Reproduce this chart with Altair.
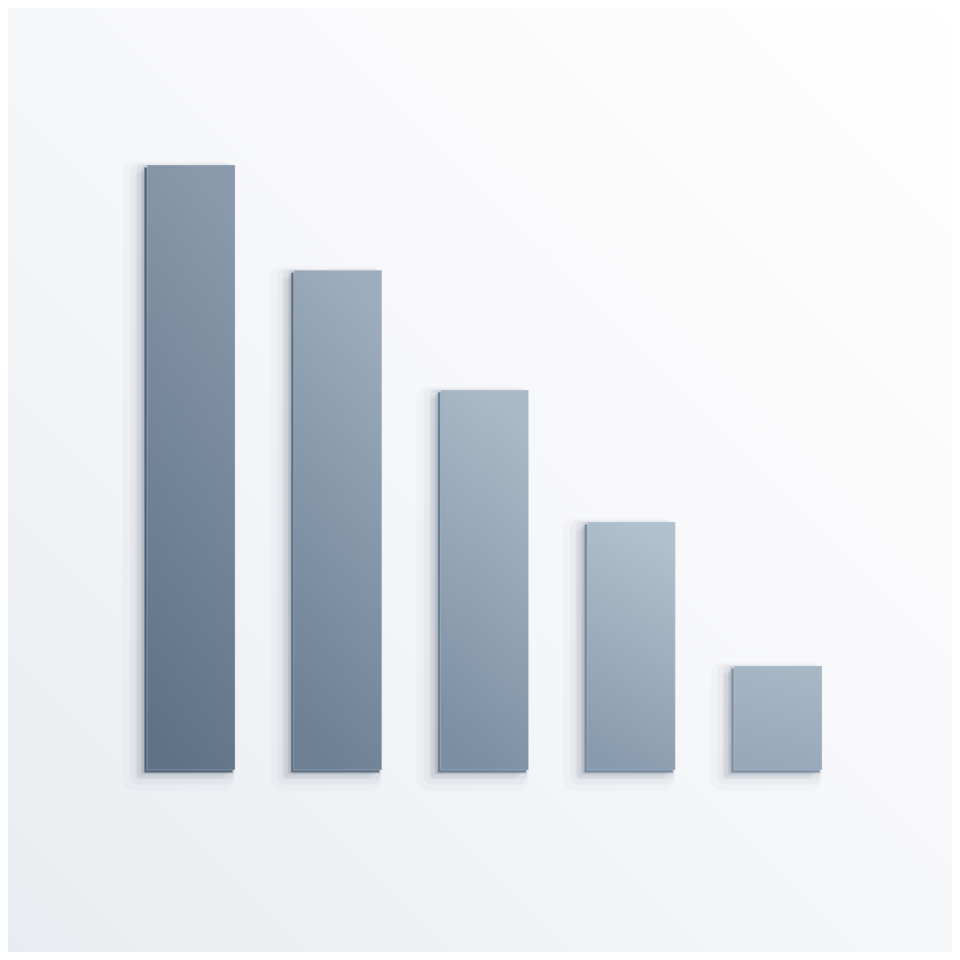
import altair as alt
import pandas as pd

# data
categories = ["1", "2", "3", "4", "5"]
values = [100.0, 82.6, 62.8, 41.0, 17.2]

# styles (per bar: top colour, bottom colour, side colour)
top_colors = ["#8a9aac", "#9dadbd", "#abbac8", "#b2c1ce", "#a8b7c6"]
bottom_colors = ["#5f7288", "#6c7f94", "#7b8ea2", "#889aad", "#96a7b9"]
side_colors = ["#536377", "#5f7083", "#6c7e91", "#76889b", "#7f90a2"]

W = H = 944
df = pd.DataFrame({"cat": categories, "val": values})

xs = alt.Scale(domain=categories, range=[139, 814], paddingInner=0.4, paddingOuter=0)
ys = alt.Scale(domain=[0, 100], range=[762, 157])
X = alt.X("cat:N", scale=xs, axis=None)
Y = alt.Y("val:Q", scale=ys, axis=None)

bg = alt.Chart(df).mark_rect(
    color=alt.Gradient(
        gradient="linear",
        stops=[alt.GradientStop(color="#ffffff", offset=0),
               alt.GradientStop(color="#f6f7f9", offset=0.5),
               alt.GradientStop(color="#e8ecf0", offset=1)],
        x1=1, y1=0, x2=0, y2=1,
    )
).encode(x=alt.value(-8), x2=alt.value(W + 8), y=alt.value(-8), y2=alt.value(H + 8))

layers = [bg]
# soft shadows
for off, sw, op in [(12, 24, 0.03), (9, 16, 0.045), (6, 9, 0.07), (3, 4, 0.1)]:
    layers.append(
        alt.Chart(df).mark_bar(
            fill="#2c3d52", fillOpacity=op, stroke="#2c3d52", strokeOpacity=op * 0.8,
            strokeWidth=sw, strokeJoin="round", xOffset=-off, yOffset=off * 0.7,
        ).encode(x=X, y=Y)
    )

for i, c in enumerate(categories):
    d = df[df["cat"] == c]
    # side face
    layers.append(
        alt.Chart(d).mark_bar(color=side_colors[i], xOffset=-2.5, yOffset=2.5).encode(x=X, y=Y)
    )
    # front face
    layers.append(
        alt.Chart(d).mark_bar(
            color=alt.Gradient(
                gradient="linear",
                stops=[alt.GradientStop(color=top_colors[i], offset=0),
                       alt.GradientStop(color=bottom_colors[i], offset=1)],
                x1=0.6, y1=0, x2=0.4, y2=1,
            ),
            stroke="#dde3ea", strokeWidth=0.6, strokeOpacity=0.5,
        ).encode(x=X, y=Y)
    )

chart = alt.layer(*layers).properties(
    width=W, height=H, autosize=alt.AutoSizeParams(type="none"), padding=0,
    background="#f6f7f9",
).configure_view(stroke=None)

chart.save("out.html", embed_options={"renderer": "svg", "actions": False})
